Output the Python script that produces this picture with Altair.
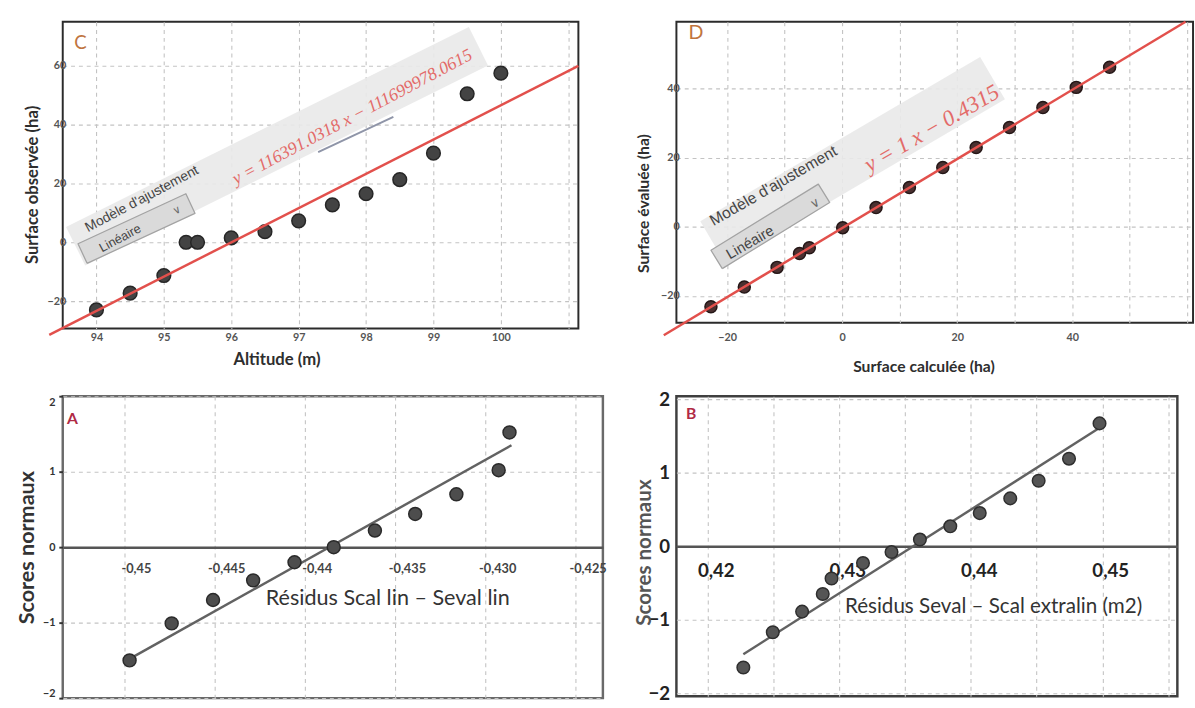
import json
import math
import altair as alt
import pandas as pd

# ---------------------------------------------------------------- data
# C : observed surface against altitude (linear fit widget)
C_ALTITUDE = [94, 94.5, 95, 95.33, 95.5, 96, 96.5, 97, 97.5, 98, 98.5, 99, 99.5, 100]
C_SURFACE = [-23, -17.3, -11.3, 0, 0, 1.5, 3.6, 7.3, 12.7, 16.5, 21.3, 30.3, 50.5, 57.5]
C_FIT_X = [93.3, 101.15]
C_FIT_Y = [-31.5, 60.0]
C_EQUATION = "y = 116391.0318 x − 111699978.0615"
C_X_TICKS = [94, 95, 96, 97, 98, 99, 100, 101]
C_Y_TICKS = [-20, 0, 20, 40, 60]

# D : evaluated surface against computed surface
D_CALC = [-22.8, -17.0, -11.3, -7.4, -5.7, 0.1, 5.9, 11.7, 17.5, 23.3, 29.1, 34.9, 40.7, 46.5]
D_EVAL = [-23.2, -17.5, -11.8, -7.8, -6.1, -0.3, 5.5, 11.3, 17.1, 22.9, 28.7, 34.5, 40.3, 46.1]
D_SLOPE = 1.0
D_INTERCEPT = -0.4315
D_FIT_X = [-31.0, 59.7]
D_EQUATION = "y = 1 x − 0.4315"
D_X_GRID = [-20, -10, 0, 10, 20, 30, 40, 50, 60]
D_X_LABELED = [-20, 0, 20, 40]
D_Y_TICKS = [-20, 0, 20, 40]

# A : normal probability plot, residuals Scal lin - Seval lin
A_RESIDUALS = [-0.4497, -0.44737, -0.44508, -0.44286, -0.44057, -0.4384,
               -0.43612, -0.43389, -0.43161, -0.42927, -0.42867]
A_SCORES = [-1.5, -1.01, -0.7, -0.44, -0.2, 0.0, 0.22, 0.44, 0.70, 1.02, 1.52]
A_LINE_X = [-0.4497, -0.42856]
A_LINE_Y = [-1.48, 1.35]
A_TICK_VALUES = [-0.45, -0.445, -0.44, -0.435, -0.43, -0.425]
A_TICK_LABELS = ["-0,45", "-0,445", "-0,44", "-0,435", "-0,430", "-0,425"]
A_TITLE = "Résidus Scal lin – Seval lin"

# B : normal probability plot, residuals Seval - Scal extralin
B_RESIDUALS = [0.42269, 0.42493, 0.42716, 0.42873, 0.4294, 0.43179, 0.43396,
               0.43612, 0.43843, 0.44067, 0.44299, 0.44515, 0.44746, 0.44978]
B_SCORES = [-1.65, -1.17, -0.89, -0.65, -0.44, -0.23, -0.08, 0.09, 0.27, 0.45,
            0.65, 0.89, 1.19, 1.67]
B_LINE_X = [0.42269, 0.4497]
B_LINE_Y = [-1.47, 1.6]
B_GRID_VALUES = [0.42, 0.425, 0.43, 0.435, 0.44, 0.445, 0.45, 0.455]
B_TICK_LABELS = ["0,42", "0,43", "0,44", "0,45"]
B_TITLE = "Résidus Seval – Scal extralin (m2)"
SCORE_TICKS = [-2, -1, 0, 1, 2]

# ---------------------------------------------------------------- style
GRID = "#c3c3c3"
LABEL_FONT = "Lato"
UI_FONT = "Liberation Sans"
MATH_FONT = "Liberation Serif"
FIT_RED = "#e2504c"
EQ_RED = "#e36a68"


def grid_kw():
    return dict(grid=True, gridColor=GRID, gridDash=[4, 4], gridWidth=1.1, labelOverlap=False)


class Frame:
    """Scales, axes and size shared by every layer of one panel."""

    def __init__(self, xdom, ydom, width, height, ax, ay):
        self.xdom, self.ydom, self.w, self.h = xdom, ydom, width, height
        self.sx = alt.Scale(domain=xdom, nice=False, zero=False)
        self.sy = alt.Scale(domain=ydom, nice=False, zero=False)
        self.ax, self.ay = ax, ay

    # data <-> plot-pixel factors, used to build rotated annotation boxes
    def _kx(self):
        return self.w / (self.xdom[1] - self.xdom[0])

    def _ky(self):
        return self.h / (self.ydom[1] - self.ydom[0])

    def xy(self, xf, yf):
        return dict(x=alt.X(xf, scale=self.sx, axis=self.ax),
                    y=alt.Y(yf, scale=self.sy, axis=self.ay))

    def segment(self, xs, ys, width, color, opacity=1.0):
        df = pd.DataFrame({"x": xs, "y": ys, "o": list(range(len(xs)))})
        return alt.Chart(df).mark_line(
            strokeWidth=width, color=color, strokeCap="butt", strokeJoin="round",
            opacity=opacity, clip=False
        ).encode(order="o:Q", **self.xy("x:Q", "y:Q"))

    def slab(self, start, end, thickness, fill, opacity=1.0, stroke=None):
        """Filled rectangle of a given pixel thickness along a data-space segment."""
        kx, ky = self._kx(), self._ky()
        p0 = (start[0] * kx, -start[1] * ky)
        p1 = (end[0] * kx, -end[1] * ky)
        dx, dy = p1[0] - p0[0], p1[1] - p0[1]
        n = math.hypot(dx, dy)
        nx, ny = -dy / n * thickness / 2, dx / n * thickness / 2
        corners = [(p0[0] + nx, p0[1] + ny), (p1[0] + nx, p1[1] + ny),
                   (p1[0] - nx, p1[1] - ny), (p0[0] - nx, p0[1] - ny)]
        corners.append(corners[0])
        df = pd.DataFrame({
            "x": [c[0] / kx for c in corners],
            "y": [-c[1] / ky for c in corners],
            "o": list(range(len(corners))),
        })
        mark = dict(filled=True, fill=fill, opacity=opacity, clip=False, strokeJoin="round")
        if stroke:
            mark.update(stroke=stroke, strokeWidth=1.3)
        else:
            mark.update(strokeWidth=0)
        return alt.Chart(df).mark_line(**mark).encode(order="o:Q", **self.xy("x:Q", "y:Q"))

    def label(self, x, y, text, **mark):
        df = pd.DataFrame({"x": [x], "y": [y], "t": [text]})
        return alt.Chart(df).mark_text(**mark).encode(text="t:N", **self.xy("x:Q", "y:Q"))

    def points(self, xs, ys, size, fill, stroke):
        df = pd.DataFrame({"x": xs, "y": ys})
        return alt.Chart(df).mark_circle(
            size=size, fill=fill, stroke=stroke, strokeWidth=1.5, opacity=1
        ).encode(**self.xy("x:Q", "y:Q"))

    def fit_widget(self, band, band_w, box, box_w, fit_label, box_label, chevron,
                   equation, eq_size, ui_size, box_size, angle):
        """Rotated 'Modèle d'ajustement' panel with its drop-down and equation."""
        return [
            self.slab(band[0], band[1], band_w, "#e9e9e9", 0.9),
            self.slab(box[0], box[1], box_w, "#dadada", 1.0, stroke="#a3a3a3"),
            self.label(*fit_label, "Modèle d'ajustement", font=UI_FONT, fontSize=ui_size,
                       color="#454545", angle=angle),
            self.label(*box_label, "Linéaire", font=UI_FONT, fontSize=box_size,
                       color="#454545", angle=angle),
            self.label(*chevron, "∨", font=UI_FONT, fontSize=box_size - 2,
                       color="#6a6a6a", angle=angle),
            self.label(equation[0], equation[1], equation[2], font=MATH_FONT,
                       fontStyle="italic", fontSize=eq_size, color=EQ_RED, angle=angle),
        ]

    def props(self, stroke, stroke_width):
        return dict(width=self.w, height=self.h,
                    view=alt.ViewBackground(stroke=stroke, strokeWidth=stroke_width,
                                            fill="white"))


# ---------------------------------------------------------------- panel C
fc = Frame(
    [93.5, 101.15], [-29.33, 75], 526, 313,
    alt.Axis(values=C_X_TICKS, labelExpr="datum.value > 100 ? '' : datum.label",
             domain=False, ticks=False, tickSize=0, labelPadding=3,
             labelFont=LABEL_FONT, labelFontSize=11, labelFontWeight="bold", labelColor="#555",
             title="Altitude (m)", titleFont=LABEL_FONT, titleFontSize=17,
             titleFontWeight="bold", titleColor="#2e2e2e", titleX=218, titleY=32,
             titleBaseline="middle", **grid_kw()),
    alt.Axis(values=C_Y_TICKS, domain=False, ticks=False, tickSize=0, labelPadding=-3,
             labelFont=LABEL_FONT, labelFontSize=11, labelFontWeight="bold", labelColor="#555",
             title="Surface observée (ha)", titleFont=LABEL_FONT, titleFontSize=17,
             titleFontWeight="bold", titleColor="#2e2e2e", titleX=-31, titleY=166,
             titleAngle=270, titleBaseline="middle", **grid_kw()),
)
c_layers = fc.fit_widget(
    band=((93.691, -1.33), (99.667, 66.67)), band_w=44,
    box=((93.794, -3.83), (95.394, 13.17)), box_w=22,
    fit_label=(94.675, 14.67), box_label=(94.352, 1.33), chevron=(95.203, 10.67),
    equation=(97.80, 42.5, C_EQUATION), eq_size=18, ui_size=14, box_size=13, angle=332,
)
c_layers += [
    fc.segment([97.289, 98.405], [30.67, 42.67], 2, "#8f95a8"),
    fc.label(93.764, 67.67, "C", font=LABEL_FONT, fontSize=19, color="#c0743e"),
    fc.points(C_ALTITUDE, C_SURFACE, 195, "#434343", "#262626"),
    fc.segment(C_FIT_X, C_FIT_Y, 2.5, FIT_RED),
]
panel_c = alt.layer(*c_layers).properties(**fc.props("#2b2b2b", 2))

# ---------------------------------------------------------------- panel D
fd = Frame(
    [-28.8, 61.0], [-27.8, 59.3], 527, 307,
    alt.Axis(values=D_X_GRID,
             labelExpr="indexof(%s, datum.value) >= 0 ? datum.label : ''" % json.dumps(D_X_LABELED),
             domain=False, ticks=False, tickSize=0, labelPadding=9,
             labelFont=LABEL_FONT, labelFontSize=11, labelFontWeight="bold", labelColor="#555",
             title="Surface calculée (ha)", titleFont=LABEL_FONT, titleFontSize=16,
             titleFontWeight="bold", titleColor="#2e2e2e", titleX=252, titleY=45,
             titleBaseline="middle", **grid_kw()),
    alt.Axis(values=D_Y_TICKS, domain=False, ticks=False, tickSize=0, labelPadding=-3,
             labelFont=LABEL_FONT, labelFontSize=11, labelFontWeight="bold", labelColor="#555",
             title="Surface évaluée (ha)", titleFont=LABEL_FONT, titleFontSize=16,
             titleFontWeight="bold", titleColor="#2e2e2e", titleX=-33, titleY=185,
             titleAngle=270, titleBaseline="middle", **grid_kw()),
)
d_fit_y = [D_SLOPE * x + D_INTERCEPT for x in D_FIT_X]
d_layers = fd.fit_widget(
    band=((-22.49, -4.54), (26.15, 42.98)), band_w=50,
    box=((-21.81, -9.50), (-3.15, 9.65)), box_w=22,
    fit_label=(-11.93, 11.77), box_label=(-16.02, -4.54), chevron=(-4.60, 6.81),
    equation=(15.6, 28.4, D_EQUATION), eq_size=23, ui_size=16, box_size=15, angle=330,
)
d_layers += [
    fd.label(-25.39, 55.89, "D", font=LABEL_FONT, fontSize=20, color="#c0743e"),
    fd.points(D_CALC, D_EVAL, 150, "#4a3030", "#241616"),
    fd.segment(D_FIT_X, d_fit_y, 2.5, FIT_RED),
]
panel_d = alt.layer(*d_layers).properties(**fd.props("#2b2b2b", 2))

# ---------------------------------------------------------------- panel A
A_H = 308
a_label_expr = "%s[round((datum.value - (%s)) / 0.005)]" % (json.dumps(A_TICK_LABELS), A_TICK_VALUES[0])
fa = Frame(
    [-0.4534, -0.4235], [-2, 2], 551, A_H,
    alt.Axis(values=A_TICK_VALUES, labelExpr=a_label_expr, offset=-A_H / 2,
             domain=True, domainColor="#555", domainWidth=2.5, ticks=False, tickSize=0,
             labelOffset=12, labelPadding=16, labelFont=LABEL_FONT, labelFontSize=13,
             labelFontWeight="bold", labelColor="#444", title=None, **grid_kw()),
    alt.Axis(values=SCORE_TICKS, domain=False, ticks=True, tickSize=4, tickColor="#333",
             tickWidth=2, labelPadding=4, labelFlush=True,
             labelFont=LABEL_FONT, labelFontSize=11, labelFontWeight="bold", labelColor="#333",
             title="Scores normaux", titleFont=LABEL_FONT, titleFontSize=22,
             titleFontWeight="bold", titleColor="#333", titleX=-37, titleY=A_H / 2,
             titleAngle=270, titleBaseline="middle", **grid_kw()),
)
panel_a = alt.layer(
    fa.segment(A_LINE_X, A_LINE_Y, 2.5, "#626262"),
    fa.points(A_RESIDUALS, A_SCORES, 175, "#4d4d4d", "#2a2a2a"),
    fa.label(-0.43541, -0.675, A_TITLE, font=LABEL_FONT, fontSize=22, color="#333"),
    fa.label(-0.45286, 1.70, "A", font=LABEL_FONT, fontSize=16, fontWeight="bold",
             color="#b02a45"),
).properties(**fa.props("#6a6a6a", 2.5))

# ---------------------------------------------------------------- panel B
B_H = 306
b_label_expr = (
    "round((datum.value - %s) / 0.005) %% 2 == 0 ? %s[round((datum.value - %s) / 0.01)] : ''"
    % (B_GRID_VALUES[0], json.dumps(B_TICK_LABELS), B_GRID_VALUES[0])
)
fb = Frame(
    [0.4176, 0.4557], [-2.04, 2.04], 511, B_H,
    alt.Axis(values=B_GRID_VALUES, labelExpr=b_label_expr, offset=-B_H / 2,
             domain=True, domainColor="#555", domainWidth=2.5, ticks=False, tickSize=0,
             labelOffset=8, labelPadding=16, labelFont=LABEL_FONT, labelFontSize=19,
             labelFontWeight="bold", labelColor="#222", title=None, **grid_kw()),
    alt.Axis(values=SCORE_TICKS, domain=False, ticks=False, tickSize=0, labelPadding=7,
             labelFlush=True, labelFont=LABEL_FONT, labelFontSize=19, labelFontWeight="bold",
             labelColor="#222", title="Scores normaux", titleFont=LABEL_FONT,
             titleFontSize=21, titleFontWeight="bold", titleColor="#555", titleX=-32,
             titleY=B_H / 2 + 6, titleAngle=270, titleBaseline="middle", **grid_kw()),
)
panel_b = alt.layer(
    fb.segment(B_LINE_X, B_LINE_Y, 2.5, "#626262"),
    fb.points(B_RESIDUALS, B_SCORES, 165, "#555555", "#2e2e2e"),
    fb.label(0.44172, -0.827, B_TITLE, font=LABEL_FONT, fontSize=21, color="#333"),
    fb.label(0.41873, 1.80, "B", font=LABEL_FONT, fontSize=16, fontWeight="bold",
             color="#b02a45"),
).properties(**fb.props("#3f3f3f", 2.5))

# ---------------------------------------------------------------- layout
chart = alt.concat(
    panel_c, panel_d, panel_a, panel_b,
    columns=2, bounds="flush", align="none",
    spacing={"row": 69, "column": 75},
).properties(
    padding={"left": 14, "top": 12, "right": 1, "bottom": 0},
    background="white",
)

chart.save("out.html", embed_options={"renderer": "svg", "actions": False})
